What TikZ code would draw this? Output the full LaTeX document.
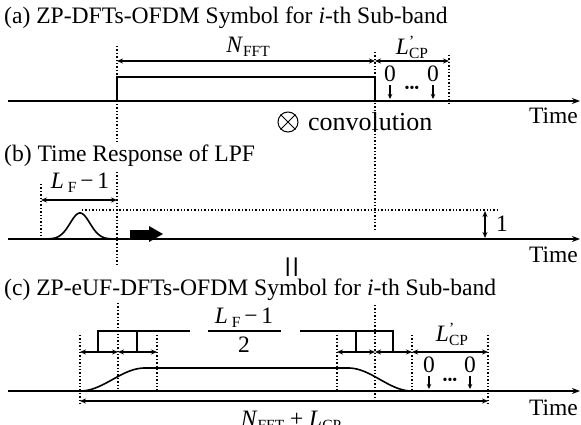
\documentclass[tikz,border=0pt]{standalone}
\usepackage{fontspec}
\setmainfont{Liberation Serif}
\usetikzlibrary{arrows.meta}
\tikzset{
  axis/.style  = {-{Stealth[length=8pt,width=6pt]}, line width=1.5pt},
  guide/.style = {dotted, line width=1.4pt},
  dim/.style   = {{Stealth[length=6pt,width=5pt]}-{Stealth[length=6pt,width=5pt]},
                  line width=1.4pt},
  down/.style  = {-{Stealth[length=5pt,width=4.5pt]}, line width=1.2pt},
  pulse/.style = {line width=1.6pt},
  lbl/.style   = {inner sep=0pt, font=\fontsize{23.5}{26}\selectfont},
  ttl/.style   = {inner sep=0pt, anchor=base west, font=\fontsize{23.6}{26}\selectfont}
}
\newcommand\lowsub[1]{\raisebox{-0.35ex}{\fontsize{15.5}{15.5}\selectfont #1}}
\newcommand\lcpmark{\textit{L}\rlap{\raisebox{0.75ex}{\fontsize{15.5}{15.5}\selectfont '}}\lowsub{CP}}

\begin{document}
\begin{tikzpicture}[x=1pt, y=-1pt]
  \useasboundingbox (0,0) rectangle (581,425);

  % (a) symbol
  \node (ttlA) [ttl] at (4,24) {(a) ZP-DFTs-OFDM Symbol for \textit{i}-th Sub-band};
  \coordinate (a0) at (8,101);
  \coordinate (a1) at (580,101);
  \draw[axis] (a0) -- (a1);
  \node (timeA) [lbl, anchor=east] at (578,116) {Time};

  \coordinate (sA) at (117,101);
  \coordinate (eA) at (375,101);
  \coordinate (cA) at (449,101);
  \draw[pulse] (sA) -- ++(0,-24) -| (eA);
  \draw[guide] (sA) ++(0,-55) -- ++(0,96);
  \draw[guide] (eA) ++(0,-49) -- ++(0,177);
  \draw[guide] (cA) ++(0,-46) -- ++(0,48);

  \coordinate (nA) at (117,61);
  \coordinate (nB) at (375,61);
  \coordinate (nC) at (449,61);
  \draw[dim] (nA) -- (nB);
  \draw[dim] (nB) -- (nC);
  \node (nfftA) [lbl] at (248,47) {\textit{N}\lowsub{FFT}};
  \node (lcpA)  [lbl] at (412,47) {\lcpmark};

  \node (zA1) [lbl] at (390,74) {0};
  \node (zA2) [lbl] at (433,74) {0};
  \node (dotA) [inner sep=0pt, font=\fontsize{14}{14}\selectfont] at (412,89) {•••};
  \draw[down, shorten <=3pt, shorten >=2pt] (zA1.south) -- (zA1.south |- a0);
  \draw[down, shorten <=3pt, shorten >=2pt] (zA2.south) -- (zA2.south |- a0);

  \node (conv) [circle, draw, line width=1pt, minimum size=20pt, inner sep=0pt] at (288,122) {};
  \draw[line width=1pt] (conv.north west) -- (conv.south east);
  \draw[line width=1pt] (conv.north east) -- (conv.south west);
  \node (convtxt) [lbl, anchor=west, font=\fontsize{26}{28}\selectfont] at (308,122) {convolution};

  % (b) filter
  \node (ttlB) [ttl] at (4,161) {(b) Time Response of LPF};
  \coordinate (b0) at (8,239);
  \coordinate (b1) at (580,239);
  \draw[axis] (b0) -- (b1);
  \node (timeB) [lbl, anchor=east] at (578,255) {Time};

  \draw[guide] (41,184) -- (41,239);
  \draw[guide] (117,172) -- (117,266);
  \coordinate (fA) at (41,200);
  \coordinate (fB) at (117,200);
  \draw[dim] (fA) -- (fB);
  \node (lfB) [lbl] at (80,183) {\textit{L}\,\lowsub{F}\,−\,1};
  \draw[pulse] plot[domain=43:117, samples=60] (\x, {239-26*exp(0-((\x-80)/14)^2)});

  \draw[guide] (82,210) -- (497,210);
  \coordinate (uA) at (485,211);
  \coordinate (uB) at (485,238);
  \draw[dim] (uA) -- (uB);
  \node (oneB) [lbl, anchor=west] at (496,224) {1};

  \fill (130,230) -- (149,230) -- (149,226) -- (163,234) -- (149,242) -- (149,238) -- (130,238) -- cycle;
  \node (eqB) [inner sep=0pt, rotate=90, font=\fontsize{40}{40}\selectfont] at (296,267) {=};

  % (c) filtered symbol
  \node (ttlC) [ttl] at (4,295) {(c) ZP-eUF-DFTs-OFDM Symbol for \textit{i}-th Sub-band};
  \coordinate (c0) at (8,391);
  \coordinate (c1) at (580,391);
  \draw[axis] (c0) -- (c1);
  \node (timeC) [lbl, anchor=east] at (578,408) {Time};

  \draw[guide] (80,335) -- (80,406);
  \draw[guide] (118,303) -- (118,391);
  \draw[guide] (157,335) -- (157,391);
  \draw[guide] (337,335) -- (337,391);
  \draw[guide] (375,305) -- (375,398);
  \draw[guide] (412,335) -- (412,391);
  \draw[guide] (488,335) -- (488,406);

  \coordinate (g1) at (80,352);
  \coordinate (g2) at (118,352);
  \coordinate (g3) at (157,352);
  \coordinate (g4) at (337,352);
  \coordinate (g5) at (375,352);
  \coordinate (g6) at (412,352);
  \coordinate (g7) at (488,352);
  \draw[dim] (g1) -- (g2);
  \draw[dim] (g2) -- (g3);
  \draw[dim] (g4) -- (g5);
  \draw[dim] (g5) -- (g6);
  \draw[dim] (g6) -- (g7);
  \node (lcpC) [lbl] at (452,334) {\lcpmark};

  % brackets to the fraction
  \draw[pulse] (98,352) -- (98,331) -- (190,331);
  \draw[pulse] (137,331) -- (137,352);
  \draw[pulse] (300,331) -- (393,331) -- (393,352);
  \draw[pulse] (356,331) -- (356,352);
  \node (numC) [lbl] at (244,318) {\textit{L}\,\lowsub{F}\,−\,1};
  \node (denC) [lbl] at (244,345) {2};
  \draw[line width=1.2pt] (208,331) -- (281,331);

  \node (zC1) [lbl] at (429,365) {0};
  \node (zC2) [lbl] at (470,365) {0};
  \node (dotC) [inner sep=0pt, font=\fontsize{14}{14}\selectfont] at (450,381) {•••};
  \draw[down, shorten <=3pt, shorten >=2pt] (zC1.south) -- (zC1.south |- c0);
  \draw[down, shorten <=3pt, shorten >=2pt] (zC2.south) -- (zC2.south |- c0);

  \draw[pulse] plot[domain=80:145, samples=40] (\x, {391-23*(1-cos(180*(\x-80)/65))/2})
            -- plot[domain=348:412, samples=40] (\x, {368+23*(1-cos(180*(\x-348)/64))/2});

  \coordinate (tA) at (80,401);
  \coordinate (tB) at (488,401);
  \draw[dim] (tA) -- (tB);
  \node (totC) [lbl] at (291,421) {\textit{N}\lowsub{FFT} + \textit{L}\lowsub{CP}};
\end{tikzpicture}
\end{document}
